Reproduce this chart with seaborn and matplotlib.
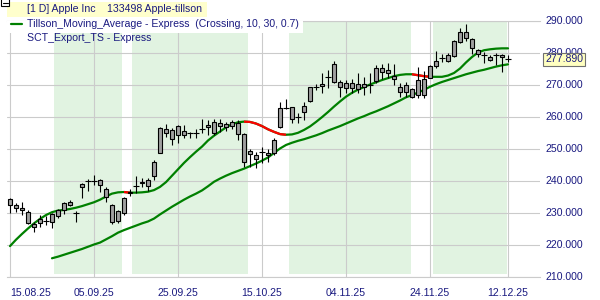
import numpy as np
import pandas as pd
import matplotlib
matplotlib.use("Agg")
import matplotlib.pyplot as plt
import matplotlib.transforms as mtransforms
from matplotlib.patches import Rectangle
from matplotlib.lines import Line2D
import seaborn as sns

# ---------------- data ----------------
tick_labels = ["15.08.25", "05.09.25", "25.09.25", "15.10.25", "04.11.25", "24.11.25", "12.12.25"]
tick_days = [0, 14, 28, 42, 56, 70, 83]

opens = [234.1, 232.3, 231.3, 230.2, 226.4, 226.6, 227.5, 227.1, 229.0, 230.8,
         232.4, 230.1, 238.1, 239.7, 239.9, 240.2, 237.3, 232.3, 227.3, 230.0,
         236.0, 238.1, 239.1, 238.3, 241.4, 248.7, 254.9, 255.8, 254.2, 255.6,
         254.8, 254.9, 255.9, 256.8, 254.9, 257.1, 256.8, 257.0, 257.9, 254.5,
         248.3, 248.0, 249.0, 248.7, 248.5, 256.6, 262.5, 262.9, 259.8, 261.5,
         264.9, 269.3, 269.5, 272.1, 270.9, 270.9, 270.4, 270.4, 270.1, 270.2,
         270.1, 271.0, 275.2, 274.5, 272.7, 269.1, 269.8, 268.7, 266.7, 266.7,
         272.1, 275.9, 278.3, 277.3, 279.0, 283.4, 284.6, 284.2, 280.8, 279.4,
         278.7, 279.2, 279.2, 278.05]
highs = [234.5, 233.1, 233.4, 230.8, 227.1, 229.2, 228.9, 229.7, 231.0, 233.4,
         233.8, 230.5, 239.1, 240.6, 241.7, 240.4, 237.9, 232.6, 230.8, 234.9,
         237.3, 241.4, 240.7, 240.7, 246.4, 256.8, 257.7, 256.3, 257.3, 257.3,
         255.3, 256.0, 259.1, 258.8, 259.1, 259.1, 258.2, 258.9, 258.9, 254.7,
         250.0, 249.0, 250.6, 249.7, 253.2, 264.6, 265.4, 263.1, 261.0, 264.6,
         269.3, 270.2, 273.5, 274.5, 277.5, 271.4, 271.4, 271.6, 273.5, 272.4,
         273.5, 276.1, 276.4, 276.8, 276.4, 270.5, 270.7, 269.0, 275.5, 274.1,
         276.0, 280.5, 279.6, 280.0, 283.9, 287.6, 288.8, 284.4, 281.2, 280.2,
         279.1, 279.7, 279.4, 279.2]
lows = [229.8, 230.3, 229.2, 226.4, 224.0, 225.6, 226.1, 225.1, 228.2, 229.5,
        232.0, 227.1, 234.4, 236.8, 238.6, 236.5, 233.4, 226.4, 226.6, 229.2,
        235.2, 236.2, 237.9, 236.8, 240.2, 248.5, 253.7, 251.1, 251.8, 253.2,
        253.2, 253.2, 254.7, 254.2, 254.2, 255.3, 255.5, 256.1, 252.7, 244.3,
        244.3, 243.8, 245.4, 245.9, 248.0, 256.3, 262.2, 257.9, 258.1, 258.9,
        264.6, 268.3, 267.2, 268.8, 270.6, 266.2, 267.3, 267.5, 267.2, 266.7,
        267.2, 270.4, 271.6, 271.9, 269.8, 266.2, 266.2, 265.7, 265.7, 265.9,
        271.9, 275.1, 277.1, 276.9, 278.7, 282.9, 283.6, 279.4, 278.5, 276.6,
        277.3, 276.1, 274.0, 276.9]
closes = [232.2, 231.3, 230.9, 226.6, 225.4, 228.0, 227.4, 229.5, 230.8, 233.1,
          233.3, 229.9, 238.9, 240.0, 240.0, 238.5, 234.8, 227.1, 230.5, 234.4,
          236.5, 238.3, 239.6, 240.2, 245.9, 256.3, 256.0, 252.9, 257.0, 254.2,
          254.9, 254.8, 256.0, 257.3, 258.4, 257.9, 257.6, 258.4, 254.5, 245.9,
          249.3, 246.6, 248.9, 248.0, 252.7, 262.6, 262.6, 259.1, 259.7, 263.3,
          269.1, 269.2, 270.2, 272.2, 276.5, 269.3, 268.8, 269.0, 268.5, 269.1,
          270.0, 275.2, 273.8, 273.5, 271.6, 267.8, 267.8, 266.2, 271.4, 271.7,
          275.9, 277.3, 278.4, 279.2, 283.6, 286.5, 286.3, 281.3, 279.4, 279.3,
          277.7, 279.1, 278.7, 277.89]

tillson = [219.5, 221.5, 223.3, 225.0, 226.6, 228.0, 229.2, 230.1, 230.6, 230.8,
           231.1, 231.5, 232.0, 232.6, 233.2, 234.0, 235.0, 235.9, 236.3, 236.4,
           236.2, 236.2, 236.3, 236.5, 237.0, 238.0, 239.5, 241.5, 243.5, 245.5,
           247.3, 249.0, 250.6, 252.5, 254.0, 255.3, 256.6, 257.6, 258.2, 258.4,
           258.3, 257.8, 257.0, 256.0, 255.2, 254.5, 254.3, 254.4, 254.9, 255.8,
           256.9, 258.3, 259.8, 261.4, 263.1, 264.7, 266.2, 267.4, 268.4, 269.2,
           270.0, 270.7, 271.4, 272.0, 272.6, 273.0, 273.2, 273.2, 272.9, 272.6,
           272.4, 272.4, 272.4, 272.8, 273.6, 275.0, 276.9, 278.6, 280.0, 280.7,
           281.0, 281.2, 281.3, 281.3]

sct = [None] * 7 + [
    215.7, 216.2, 216.8, 217.4, 218.0, 218.6, 219.3, 220.0, 220.6, 221.6,
    222.6, 223.7, 224.5, 225.2, 225.9, 226.6, 227.2, 228.1, 229.4, 230.6,
    231.8, 232.9, 234.0, 235.0, 235.9, 236.9, 238.2, 239.6, 240.6, 241.5,
    242.3, 243.0, 243.7, 244.5, 245.3, 246.2, 247.2, 248.6, 250.0, 251.1,
    251.8, 252.4, 252.9, 253.5, 254.1, 254.8, 255.6, 256.3, 257.0, 257.8,
    258.6, 259.4, 260.1, 260.9, 261.6, 262.4, 263.2, 264.1, 265.0, 266.0,
    266.7, 267.5, 268.3, 269.3, 270.1, 270.8, 271.4, 272.0, 272.6, 273.2,
    273.7, 274.2, 274.6, 275.1, 275.6, 276.0, 276.3]

regimes = [(7.35, 18.6), (20.3, 39.6), (46.5, 66.8), (70.45, 82.8)]

last_price = 277.89

# ---------------- build ----------------
df = pd.DataFrame({"open": opens, "high": highs, "low": lows, "close": closes,
                   "tillson": tillson, "sct": pd.to_numeric(pd.Series(sct), errors="coerce")})
df["day"] = np.arange(len(df))
df["body_low"] = df[["open", "close"]].min(axis=1)
df["body_h"] = (df["open"] - df["close"]).abs()

sns.set_style("white")
plt.rcParams["font.family"] = ["Liberation Sans", "DejaVu Sans"]

NAVY = "#1a1a80"
GREEN = "#008000"
RED = "#ff0000"
GRID = "#cbcbcb"
FS = 7.6

W, H = 600, 300
fig = plt.figure(figsize=(6, 3), dpi=100)
ax = fig.add_axes([7 / W, 1 - 276.5 / H, 533 / W, 256 / H])
ax.set_xlim(-0.5, 88.33)
ax.set_ylim(210, 290)

for s, e in regimes:
    ax.axvspan(s, e, ymin=0.01, ymax=1, color="#e1f3e1", lw=0, zorder=0)

ax.set_axisbelow(True)
ax.set_yticks(np.arange(210, 291, 10))
ax.set_yticklabels([f"{v:.3f}" for v in np.arange(210, 291, 10)])
ax.set_xticks(tick_days)
ax.set_xticklabels(tick_labels)
ax.grid(True, color=GRID, lw=0.8)
for side in ["left", "right"]:
    ax.spines[side].set_visible(False)
for side in ["top", "bottom"]:
    ax.spines[side].set_color(GRID)
    ax.spines[side].set_linewidth(0.8)
ax.yaxis.tick_right()
ax.tick_params(axis="y", length=0, pad=4, labelsize=FS, labelcolor=NAVY)
ax.tick_params(axis="x", length=0, pad=8, labelsize=FS, labelcolor=NAVY)
ax.get_xticklabels()[0].set_ha("left")

# indicator lines
sns.lineplot(data=df, x="day", y="sct", color=GREEN, lw=1.6, ax=ax, zorder=2, legend=False)
sns.lineplot(data=df, x="day", y="tillson", color=GREEN, lw=1.6, ax=ax, zorder=2, legend=False)
t = df["tillson"].values
for i in range(len(t) - 1):
    if t[i + 1] < t[i]:
        ax.plot([i, i + 1], [t[i], t[i + 1]], color=RED, lw=1.6, zorder=2.1,
                solid_capstyle="butt")
ax.set_xlabel("")
ax.set_ylabel("")

# candles
ax.vlines(df["day"], df["low"], df["high"], color="black", lw=0.8, zorder=3)
doji = df["body_h"] < 0.35
bars = df[~doji]
ax.bar(bars["day"], bars["body_h"], bottom=bars["body_low"], width=0.55,
       color="#a0a0a0", edgecolor="black", linewidth=0.8, zorder=4)
dj = df[doji]
ax.hlines(dj["close"], dj["day"] - 0.43, dj["day"] + 0.43, color="black", lw=0.8, zorder=4)

# last price marker (drawn over the axis labels, as in the reference)
trans = mtransforms.blended_transform_factory(ax.transAxes, ax.transData)
ax.text(1 + 5 / 533, last_price, f"{last_price:.3f}", transform=trans, ha="left", va="center",
        fontsize=FS, color=NAVY, clip_on=False, zorder=10,
        bbox=dict(boxstyle="square,pad=0.15", fc="#ffffc0", ec="#707070", lw=0.8))

# small window icon at the top-left corner
fig.patches.append(Rectangle((1 / W, 1 - 6 / H), 8 / W, 8 / H, transform=fig.transFigure,
                             fc="white", ec="black", lw=0.8, zorder=6))
fig.lines.append(Line2D([2.5 / W, 7.5 / W], [1 - 2.5 / H, 1 - 2.5 / H], transform=fig.transFigure,
                        color="black", lw=0.8, zorder=7))

# header / legend
fig.patches.append(Rectangle((7 / W, 1 - 17 / H), 200 / W, 15 / H, transform=fig.transFigure,
                             fc="#ffffcc", ec="none", zorder=5))
fig.patches.append(Rectangle((7 / W, 1 - 32.5 / H), 296 / W, 11.5 / H, transform=fig.transFigure,
                             fc="white", ec="none", zorder=5))
fig.text(27 / W, 1 - 9.5 / H, "[1 D] Apple Inc    133498 Apple-tillson", fontsize=FS,
         color=NAVY, va="center", ha="left", zorder=6)
fig.lines.append(Line2D([11 / W, 22 / W], [1 - 24 / H, 1 - 24 / H], transform=fig.transFigure,
                        color=GREEN, lw=1.6, zorder=6))
fig.text(27 / W, 1 - 24 / H, "Tillson_Moving_Average - Express  (Crossing, 10, 30, 0.7)",
         fontsize=FS, color=NAVY, va="center", ha="left", zorder=6)
fig.text(27 / W, 1 - 38 / H, "SCT_Export_TS - Express", fontsize=FS, color=NAVY,
         va="center", ha="left", zorder=6)

fig.savefig("out.png", dpi=100)
